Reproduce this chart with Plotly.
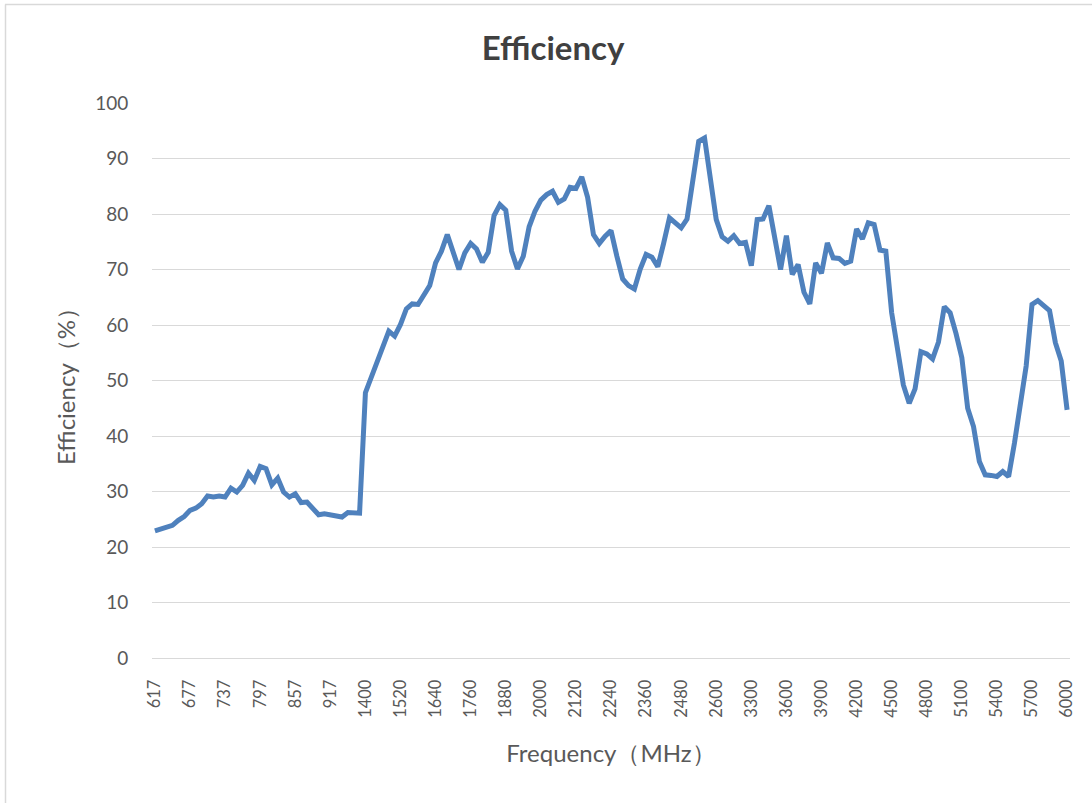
import plotly.graph_objects as go

freq_mhz = [
    617, 627, 637, 647, 657, 667, 677, 687, 697, 707, 717, 727, 737, 747, 757, 767,
    777, 787, 797, 807, 817, 827, 837, 847, 857, 867, 877, 887, 897, 907, 917,
    927, 937, 947, 957, 960,
    1400, 1420, 1440, 1460, 1480, 1500, 1520, 1540, 1560, 1580, 1600, 1620, 1640,
    1660, 1680, 1700, 1720, 1740, 1760, 1780, 1800, 1820, 1840, 1860, 1880, 1900,
    1920, 1940, 1960, 1980, 2000, 2020, 2040, 2060, 2080, 2100, 2120, 2140, 2160,
    2180, 2200, 2220, 2240, 2260, 2280, 2300, 2320, 2340, 2360, 2380, 2400, 2420,
    2440, 2460, 2480, 2500, 2520, 2540, 2560, 2580, 2600,
    2620, 2640, 2660, 2680, 2690,
    3300, 3350, 3400, 3450, 3500, 3550, 3600, 3650, 3700, 3750, 3800, 3850, 3900,
    3950, 4000, 4050, 4100, 4150, 4200, 4250, 4300, 4350, 4400, 4450, 4500, 4550,
    4600, 4650, 4700, 4750, 4800, 4850, 4900, 4950, 5000, 5050, 5100, 5150, 5200,
    5250, 5300, 5350, 5400, 5450, 5500, 5550, 5600, 5650, 5700, 5750, 5800, 5850,
    5900, 5950, 6000,
]

efficiency_pct = [
    22.9, 23.2, 23.5, 23.9, 24.8, 25.5, 26.6, 27.0, 27.8, 29.2, 29.0, 29.2, 29.0,
    30.6, 29.9, 31.1, 33.3, 32.0, 34.5, 34.1, 31.2, 32.4, 29.9, 29.0, 29.6, 28.0,
    28.1, 27.1, 25.8, 26.0, 25.8, 25.8, 25.4, 26.2, 26.1, 26.1,
    47.8, 50.5, 53.0, 56.2, 58.9, 58.0, 60.1, 62.9, 63.8, 63.7, 65.6, 67.1, 71.2,
    73.3, 76.3, 73.0, 70.0, 73.0, 74.7, 73.7, 71.3, 73.1, 79.7, 81.7, 80.7, 73.3,
    70.1, 72.4, 77.7, 80.5, 82.5, 83.5, 84.1, 82.1, 82.7, 84.8, 84.6, 86.7, 83.0,
    76.3, 74.7, 76.0, 77.0, 72.4, 68.3, 67.1, 66.5, 70.1, 72.7, 72.2, 70.5, 74.7,
    79.3, 78.4, 77.5, 79.1, 86.5, 93.1, 93.7, 86.8, 79.0,
    75.9, 75.1, 76.1, 74.7, 74.9,
    70.7, 79.0, 79.1, 81.5, 76.0, 70.0, 76.1, 69.1, 70.9, 65.9, 63.8, 71.2, 69.3,
    74.8, 72.1, 72.0, 71.1, 71.5, 77.3, 75.5, 78.4, 78.1, 73.5, 73.3, 62.2, 55.6,
    49.2, 45.9, 48.5, 55.2, 54.8, 53.9, 56.9, 63.3, 62.2, 58.5, 54.1, 45.0, 41.7,
    35.4, 33.0, 32.9, 32.7, 33.6, 32.7, 38.7, 46.2, 52.6, 63.7, 64.4, 63.5, 62.6,
    56.8, 53.5, 44.7,
]

categories = [str(f) for f in freq_mhz]
tick_labels = categories[::6]

fig = go.Figure()
fig.add_trace(go.Scatter(
    x=categories, y=efficiency_pct, mode="lines",
    line=dict(color="#4F81BD", width=5),
    showlegend=False, hoverinfo="x+y",
))

FONT = "Lato, 'Open Sans', sans-serif"

fig.update_layout(
    width=1092, height=803,
    margin=dict(l=152, r=22, t=103, b=145),
    paper_bgcolor="white", plot_bgcolor="white",
    font=dict(family=FONT, color="#595959"),
    title=dict(text="<b>Efficiency</b>", x=(553 - 152) / 918, xref="paper",
               xanchor="center", y=1 - 48 / 803, yanchor="middle",
               font=dict(family=FONT, size=33, color="#404040")),
    shapes=[
        dict(type="line", xref="paper", yref="paper",
             x0=-147 / 918, x1=940 / 918, y0=(658 - 4.5) / 555, y1=(658 - 4.5) / 555,
             line=dict(color="#D9D9D9", width=1.5)),
        dict(type="line", xref="paper", yref="paper",
             x0=-146.5 / 918, x1=-146.5 / 918, y0=(658 - 4.5) / 555, y1=-150 / 555,
             line=dict(color="#D9D9D9", width=1.5)),
    ],
)

fig.update_xaxes(
    type="category",
    categoryorder="array", categoryarray=categories,
    range=[-0.5, len(categories) - 0.5],
    tickmode="array", tickvals=tick_labels, ticktext=tick_labels,
    tickangle=-90, tickfont=dict(family=FONT, size=16.5, color="#595959"),
    ticks="outside", ticklen=14, tickcolor="rgba(0,0,0,0)",
    showgrid=False, showline=True, linecolor="#D9D9D9", linewidth=1,
    zeroline=False,
    title=dict(text="Frequency（MHz）", standoff=28,
               font=dict(family=FONT, size=24, color="#595959")),
)

fig.update_yaxes(
    range=[0, 100], tickmode="array", tickvals=list(range(0, 101, 10)),
    tickfont=dict(family=FONT, size=19, color="#595959"),
    ticks="outside", ticklen=19, tickcolor="rgba(0,0,0,0)",
    showgrid=True, gridcolor="#D9D9D9", gridwidth=1,
    zeroline=False, showline=False,
    title=dict(text="Efficiency（%）", standoff=12,
               font=dict(family=FONT, size=24, color="#595959")),
)

fig.write_html("out.html", config={"displayModeBar": False},
               post_script="document.body.style.margin='0px';document.body.style.padding='0px';")
